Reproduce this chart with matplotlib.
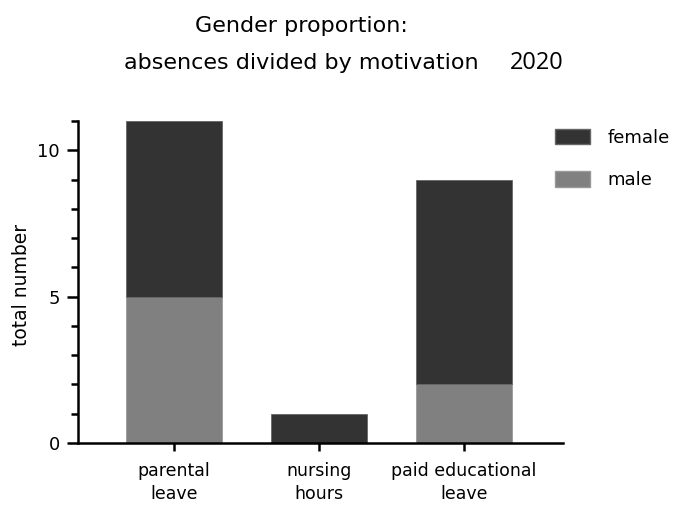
import matplotlib.pyplot as plt
from matplotlib.ticker import MultipleLocator
from matplotlib.patches import Patch

categories = ["parental\nleave", "nursing\nhours", "paid educational\nleave"]
male = [5, 0, 2]
female = [6, 1, 7]

female_color = "#333333"
male_color = "#808080"

plt.rcParams['font.family'] = ['DejaVu Sans']

fig = plt.figure(figsize=(6.84, 5.13), dpi=100)
ax = fig.add_axes([0.114, 0.1365, 0.709, 0.6275])

x = list(range(len(categories)))
ax.bar(x, male, width=0.66, color=male_color, edgecolor="#999999", linewidth=0.6)
ax.bar(x, female, width=0.66, bottom=male, color=female_color, edgecolor="#666666", linewidth=0.6)

ax.set_xlim(-0.662, 2.683)
ax.set_ylim(0, 11)
ax.set_xticks(x)
ax.set_xticklabels(categories, fontsize=12.5, linespacing=1.35)
ax.yaxis.set_major_locator(MultipleLocator(5))
ax.yaxis.set_minor_locator(MultipleLocator(1))
ax.tick_params(axis='y', which='major', length=8, width=1.8, labelsize=13, direction='out', pad=5)
ax.tick_params(axis='y', which='minor', length=5, width=1.8, direction='out')
ax.tick_params(axis='x', length=6, width=1.8, pad=8)

for side in ['top', 'right']:
    ax.spines[side].set_visible(False)
for side in ['left', 'bottom']:
    ax.spines[side].set_linewidth(1.8)

ax.set_ylabel("total number", fontsize=13.5)
ax.yaxis.set_label_coords(-0.097, 0.49)

handles = [Patch(facecolor=female_color, edgecolor="#666666", label="female"),
           Patch(facecolor=male_color, edgecolor="#999999", label="male")]
fig.legend(handles=handles, loc='upper left', bbox_to_anchor=(0.787, 0.781),
           frameon=False, fontsize=13, handlelength=1.95, handleheight=0.95,
           handletextpad=1.0, labelspacing=1.35)

fig.text(0.441, 0.949, "Gender proportion:", ha='center', va='center', fontsize=16)
fig.text(0.441, 0.877, "absences divided by motivation", ha='center', va='center', fontsize=16)
fig.text(0.785, 0.877, "2020", ha='center', va='center', fontsize=17,
         family=['Open Sans', 'DejaVu Sans'])

fig.savefig("out.png", dpi=100)
